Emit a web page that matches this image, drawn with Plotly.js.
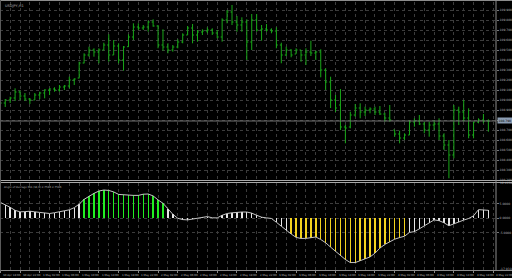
<!DOCTYPE html>
<html>
<head>
<meta charset="utf-8">
<script src="https://cdn.plot.ly/plotly-3.0.1.min.js"></script>
<style>
html,body{margin:0;padding:0;background:#000;}
#chart{width:512px;height:278px;}
</style>
</head>
<body>
<div id="chart"></div>
<script>
// ---- data: hourly OHLC bars (symbol H1) ----
const opens = [
109.00,108.97,109.00,109.02,109.08,109.04,109.01,109.00,109.05,109.07,
109.10,109.11,109.10,109.13,109.14,109.20,109.22,109.37,109.45,109.50,
109.48,109.50,109.55,109.45,109.54,109.40,109.533,109.63,109.73,109.72,
109.73,109.78,109.74,109.55,109.53,109.50,109.53,109.58,109.65,109.72,
109.65,109.68,109.69,109.70,109.67,109.63,109.80,109.88,109.78,109.75,
109.78,109.58,109.80,109.70,109.71,109.70,109.69,109.55,109.45,109.50,
109.46,109.50,109.45,109.48,109.47,109.48,109.30,109.18,109.00,108.95,
108.73,108.73,108.85,108.92,108.88,108.90,108.91,108.88,108.86,108.82,
108.70,108.66,108.62,108.65,108.78,108.79,108.76,108.70,108.75,108.76,
108.64,108.55,108.45,108.90,108.88,108.82,108.65,108.78,108.80,108.79];
const highs = [
109.04,109.01,109.033,109.117,109.093,109.07,109.02,109.07,109.083,109.107,
109.117,109.127,109.15,109.15,109.233,109.217,109.383,109.467,109.533,109.517,
109.517,109.573,109.657,109.60,109.567,109.54,109.657,109.767,109.767,109.75,
109.793,109.807,109.75,109.707,109.567,109.55,109.607,109.667,109.74,109.76,
109.70,109.707,109.727,109.717,109.70,109.817,109.90,109.95,109.84,109.827,
109.807,109.86,109.86,109.75,109.76,109.717,109.727,109.573,109.533,109.507,
109.517,109.50,109.517,109.593,109.493,109.507,109.317,109.233,109.05,109.11,
108.75,108.883,108.96,108.967,108.933,108.927,108.933,108.94,108.873,108.95,
108.70,108.693,108.667,108.80,108.817,108.85,108.783,108.783,108.80,108.817,
108.667,108.60,108.95,108.933,109.00,108.917,108.783,108.817,108.86,108.807];
const lows = [
108.96,108.93,108.97,108.99,109.00,108.99,108.96,109.00,109.01,109.017,
109.05,109.083,109.083,109.10,109.117,109.15,109.217,109.367,109.433,109.433,
109.367,109.50,109.383,109.45,109.367,109.293,109.533,109.60,109.70,109.70,
109.683,109.733,109.517,109.493,109.467,109.483,109.517,109.567,109.65,109.567,
109.583,109.65,109.667,109.65,109.617,109.583,109.767,109.75,109.683,109.683,
109.40,109.50,109.683,109.593,109.683,109.667,109.517,109.367,109.44,109.427,
109.46,109.383,109.35,109.44,109.40,109.227,109.10,108.92,108.88,108.70,
108.567,108.717,108.833,108.817,108.84,108.867,108.85,108.85,108.783,108.783,
108.633,108.567,108.60,108.65,108.733,108.75,108.667,108.633,108.70,108.60,
108.50,108.217,108.417,108.75,108.783,108.617,108.617,108.767,108.767,108.683];
const closes = [
108.97,109.00,109.02,109.08,109.04,109.01,109.00,109.05,109.07,109.10,
109.11,109.10,109.13,109.14,109.20,109.21,109.37,109.45,109.50,109.48,
109.50,109.55,109.45,109.54,109.40,109.53,109.63,109.73,109.72,109.73,
109.78,109.74,109.55,109.53,109.50,109.53,109.58,109.65,109.72,109.65,
109.68,109.69,109.70,109.67,109.63,109.80,109.88,109.78,109.75,109.78,
109.58,109.80,109.70,109.71,109.70,109.69,109.55,109.45,109.50,109.45,
109.50,109.45,109.48,109.47,109.48,109.30,109.18,109.00,108.92,108.73,
108.72,108.85,108.92,108.88,108.90,108.91,108.88,108.86,108.82,108.80,
108.66,108.62,108.65,108.78,108.79,108.76,108.70,108.75,108.76,108.64,
108.55,108.45,108.90,108.88,108.82,108.65,108.78,108.80,108.79,108.79];

// ---- Angle of Average indicator ----
const angleValues = [
5.52,4.73,3.80,2.76,2.24,2.31,2.45,2.24,2.00,1.76,
1.66,1.93,2.24,2.48,2.93,3.69,4.90,6.56,7.73,8.63,
9.45,9.80,9.66,9.14,8.28,8.11,7.94,7.94,7.94,8.35,
8.42,7.76,6.38,5.20,3.30,1.38,0.00,-0.45,-0.55,-0.31,
0.03,0.41,0.59,0.17,0.14,1.04,1.66,1.90,2.10,2.17,
2.17,1.79,1.04,0.38,0.14,-0.07,-1.38,-2.76,-4.24,-5.45,
-6.62,-7.00,-6.97,-6.66,-6.49,-7.35,-8.49,-10.0,-11.5,-13.1,
-14.3,-15.35,-15.35,-14.7,-14.1,-13.4,-12.1,-10.35,-9.07,-8.07,
-7.25,-6.69,-6.21,-4.90,-4.62,-3.66,-2.62,-1.66,-0.55,-0.83,
-1.55,-2.59,-1.86,-1.21,-0.62,-0.07,0.86,3.00,2.93,2.76];
const angleLevel = 5;

const timeLabels = [
"30 Apr 18:00","30 Apr 22:00","1 May 02:00","1 May 06:00","1 May 10:00","1 May 14:00",
"1 May 18:00","1 May 22:00","2 May 02:00","2 May 06:00","2 May 10:00","2 May 14:00",
"2 May 18:00","2 May 22:00","3 May 02:00","3 May 06:00","3 May 10:00","3 May 14:00",
"3 May 18:00","3 May 22:00","4 May 02:00","4 May 06:00","4 May 10:00","4 May 14:00",
"4 May 18:00","4 May 22:00"];
const levelLabels = ["5.0000","0.0000","-5.0000"];
const levelValues = [5,0,-5];
const symbolTitle = "USDJPY,H1";
const indicatorTitle = "Angle of Average MA (34,0) 2.7586 2.7586";
const indicatorMaxLabel = "12.4138";
const indicatorMinLabel = "-17.9310";
const bidPrice = closes[closes.length-1];

// ---- build ----
const barIndex = opens.map((_, i) => i);
const histColors = angleValues.map(v => v > angleLevel ? '#22ee22' : (v < -angleLevel ? '#f2d21e' : '#e6e6e6'));

const W = 512, H = 278;
const px = x => x / W;
const py = y => 1 - y / H;
const xDom = [0, px(496)];
const xRange = [-0.06, 100.55];
const GRID = '#3c3c3c';
const TXT = '#b4b4b4';
const FONT = 'DejaVu Sans';

const traces = [
  {
    type: 'ohlc', x: barIndex, open: opens, high: highs, low: lows, close: closes,
    xaxis: 'x', yaxis: 'y', tickwidth: 0.3, hoverinfo: 'skip',
    increasing: {line: {color: '#18a818', width: 1}},
    decreasing: {line: {color: '#18a818', width: 1}}
  },
  {
    type: 'bar', x: barIndex, y: angleValues, xaxis: 'x2', yaxis: 'y2', width: 0.28,
    marker: {color: histColors, line: {width: 0}}, hoverinfo: 'skip'
  },
  {
    type: 'scatter', mode: 'lines', x: barIndex, y: angleValues, xaxis: 'x2', yaxis: 'y2',
    line: {color: '#c4c4c4', width: 1}, hoverinfo: 'skip'
  }
];

const annotations = [
  {xref: 'paper', yref: 'paper', x: px(3), y: py(2), xanchor: 'left', yanchor: 'top', showarrow: false,
   text: symbolTitle, font: {size: 3.5, color: TXT, family: FONT}},
  {xref: 'paper', yref: 'paper', x: px(2), y: py(183), xanchor: 'left', yanchor: 'top', showarrow: false,
   text: indicatorTitle, font: {size: 2.7, color: TXT, family: FONT}},
  {xref: 'paper', yref: 'y', x: px(496.5), y: bidPrice, xanchor: 'left', yanchor: 'middle', showarrow: false,
   text: bidPrice.toFixed(3), bgcolor: '#8c9db3', borderpad: 0.6, font: {size: 3, color: '#000', family: FONT}},
  {xref: 'paper', yref: 'paper', x: px(498), y: py(183), xanchor: 'left', yanchor: 'middle', showarrow: false,
   text: indicatorMaxLabel, font: {size: 3, color: TXT, family: FONT}},
  {xref: 'paper', yref: 'paper', x: px(498), y: py(268.5), xanchor: 'left', yanchor: 'middle', showarrow: false,
   text: indicatorMinLabel, font: {size: 3, color: TXT, family: FONT}}
];
timeLabels.forEach((t, k) => {
  annotations.push({xref: 'x2', yref: 'paper', x: 4 * k, y: py(271), xanchor: 'left', yanchor: 'top',
    xshift: 1, showarrow: false, text: t, font: {size: 2.7, color: TXT, family: FONT}});
});

const BORDER = '#8c8c8c';
const shapes = [
  {type: 'line', xref: 'paper', yref: 'y', x0: 0, x1: xDom[1], y0: bidPrice, y1: bidPrice, line: {color: '#707070', width: 1}},
  {type: 'line', xref: 'paper', yref: 'paper', x0: 0, x1: 1, y0: py(0.5), y1: py(0.5), line: {color: BORDER, width: 1}},
  {type: 'line', xref: 'paper', yref: 'paper', x0: 0, x1: 1, y0: py(180.5), y1: py(180.5), line: {color: '#a8a8a8', width: 1}},
  {type: 'line', xref: 'paper', yref: 'paper', x0: 0, x1: 1, y0: py(182.5), y1: py(182.5), line: {color: '#a8a8a8', width: 1}},
  {type: 'line', xref: 'paper', yref: 'paper', x0: 0, x1: 1, y0: py(270.5), y1: py(270.5), line: {color: BORDER, width: 1}},
  {type: 'line', xref: 'paper', yref: 'paper', x0: px(496), x1: px(496), y0: py(270.5), y1: 1, line: {color: BORDER, width: 1}},
  {type: 'line', xref: 'paper', yref: 'paper', x0: px(0.5), x1: px(0.5), y0: py(270.5), y1: 1, line: {color: '#5a5a5a', width: 1}}
];

const layout = {
  width: W, height: H, margin: {l: 0, r: 0, t: 0, b: 0, pad: 0},
  paper_bgcolor: '#000', plot_bgcolor: '#000', showlegend: false, bargap: 0,
  xaxis: {domain: xDom, range: xRange, anchor: 'y', tickmode: 'linear', tick0: 0, dtick: 2,
    showticklabels: false, ticks: '', showgrid: true, gridcolor: GRID, griddash: 'dot', gridwidth: 1,
    zeroline: false, showline: false, rangeslider: {visible: false}, fixedrange: true},
  yaxis: {domain: [py(180), py(2)], range: [108.20, 109.98], side: 'right', anchor: 'x',
    tickmode: 'linear', tick0: 109.9, dtick: 0.1, tickformat: '.3f', ticks: 'outside', ticklen: 2,
    tickcolor: '#777', tickfont: {size: 3, color: TXT, family: FONT}, showgrid: true, gridcolor: GRID,
    griddash: 'dot', gridwidth: 1, zeroline: false, showline: false, fixedrange: true},
  xaxis2: {domain: xDom, range: xRange, anchor: 'y2', tickmode: 'linear', tick0: 0, dtick: 4,
    ticks: 'outside', ticklen: 2, tickcolor: '#888', showticklabels: false, showgrid: true,
    gridcolor: GRID, griddash: 'dot', gridwidth: 1, zeroline: false, showline: false, fixedrange: true,
    minor: {dtick: 2, tick0: 0, showgrid: true, gridcolor: GRID, griddash: 'dot', ticks: ''}},
  yaxis2: {domain: [py(270), py(182.5)], range: [-17.93, 12.41], side: 'right', anchor: 'x2',
    tickmode: 'array', tickvals: levelValues, ticktext: levelLabels, ticks: 'outside', ticklen: 2,
    tickcolor: '#777', tickfont: {size: 3, color: TXT, family: FONT}, showgrid: true, gridcolor: GRID,
    griddash: 'dot', gridwidth: 1, zeroline: false, showline: false, fixedrange: true},
  annotations: annotations,
  shapes: shapes
};

Plotly.newPlot('chart', traces, layout, {staticPlot: true, displayModeBar: false});
</script>
</body>
</html>
